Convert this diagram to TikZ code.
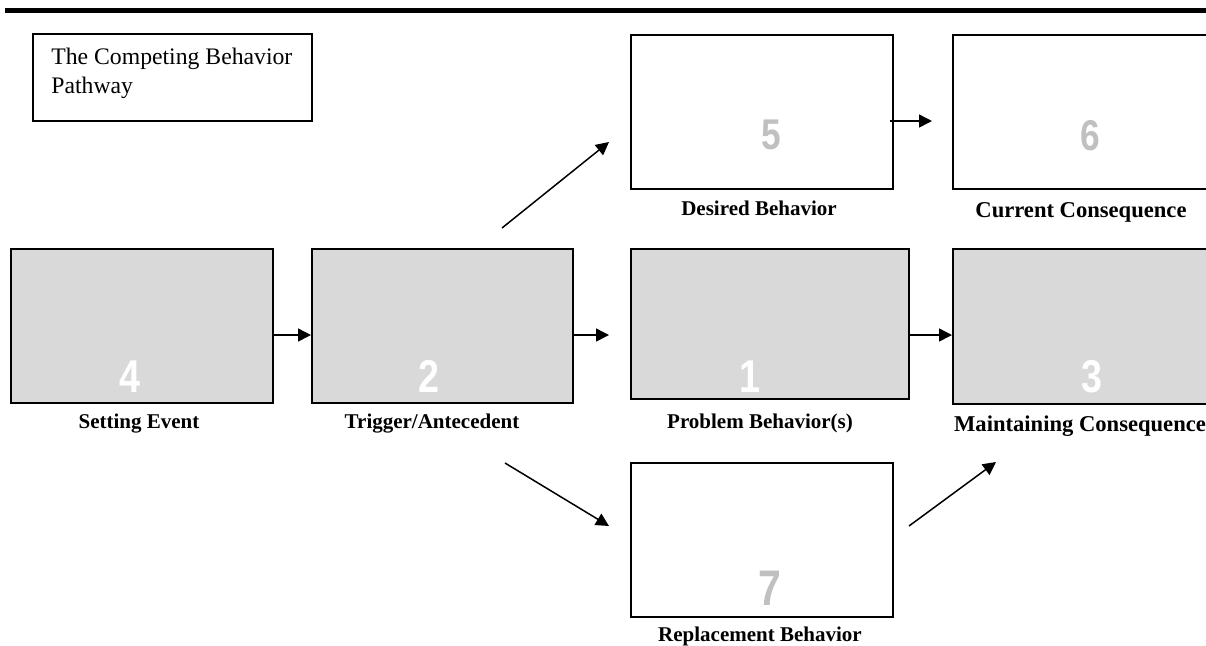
\documentclass[tikz,border=0pt]{standalone}
\usepackage{fontspec}
\setmainfont{Liberation Serif}
\newfontfamily\numfont{Liberation Sans}
\usetikzlibrary{arrows.meta}
\definecolor{boxgray}{HTML}{D9D9D9}
\definecolor{numgray}{HTML}{C0C0C0}
\begin{document}
\begin{tikzpicture}[x=0.5pt,y=-0.5pt,
  box/.style={draw=black,line width=1pt,inner sep=0pt,anchor=north west},
  lab/.style={font=\fontsize{10.5pt}{12pt}\selectfont\bfseries,anchor=base,inner sep=0pt},
  labbig/.style={font=\fontsize{11.3pt}{13pt}\selectfont\bfseries,anchor=base,inner sep=0pt},
  num/.style={font=\fontsize{23pt}{23pt}\selectfont\numfont\bfseries,anchor=base,inner sep=0pt,xscale=0.82,transform shape},
  arr/.style={line width=0.75pt,-{Triangle[length=6.5pt,width=6.5pt]}}]
\useasboundingbox (0,0) rectangle (1206,645);
\clip (0,0) rectangle (1206,645);
% top bar
\draw[line width=2.5pt] (5,10.5) -- (1206,10.5);
% title
\node[box,minimum width=139.5pt,minimum height=43.5pt] (title) at (32,33) {};
\node[anchor=base west,inner sep=0pt,align=left,font=\fontsize{11.85pt}{14.5pt}\selectfont] (titletext) at (51,93) {The Competing Behavior\\Pathway};
% boxes
\node[box,minimum width=131pt,minimum height=77pt] (n5) at (630,34) {};
\node[box,minimum width=135pt,minimum height=77pt] (n6) at (952,34) {};
\node[box,fill=boxgray,minimum width=131pt,minimum height=77pt] (n4) at (10,248) {};
\node[box,fill=boxgray,minimum width=130.5pt,minimum height=77pt] (n2) at (311,248) {};
\node[box,fill=boxgray,minimum width=139pt,minimum height=75pt] (n1) at (630,248) {};
\node[box,fill=boxgray,minimum width=135pt,minimum height=77.5pt] (n3) at (952,248) {};
\node[box,minimum width=131pt,minimum height=77pt] (n7) at (630,462) {};
% numbers
\node[num,text=numgray,font=\fontsize{21.5pt}{22pt}\selectfont\numfont\bfseries] (d5) at (771,149) {5};
\node[num,text=numgray,font=\fontsize{21.5pt}{22pt}\selectfont\numfont\bfseries] (d6) at (1090,150) {6};
\node[num,text=white] (d4) at (130,392) {4};
\node[num,text=white] (d2) at (429,392) {2};
\node[num,text=white] (d1) at (750,392) {1};
\node[num,text=white] (d3) at (1092,392) {3};
\node[num,text=numgray,font=\fontsize{25pt}{25pt}\selectfont\numfont\bfseries] (d7) at (770,605) {7};
% labels
\node[lab] (l5) at (759,215) {Desired Behavior};
\node[labbig] (l6) at (1081,217.5) {Current Consequence};
\node[lab] (l4) at (139,428) {Setting Event};
\node[lab] (l2) at (432,428) {Trigger/Antecedent};
\node[lab] (l1) at (760,428) {Problem Behavior(s)};
\node[labbig] (l3) at (1080,431) {Maintaining Consequence};
\node[lab] (l7) at (760,641) {Replacement Behavior};
% arrows
\draw[arr] ([yshift=-4.5pt]n4.east) -- ([yshift=-4.5pt]n4.east -| n2.west);
\draw[arr,shorten >=10.5pt] ([yshift=-4.5pt]n2.east) -- ([yshift=-4.5pt]n2.east -| n1.west);
\draw[arr] ([yshift=-4.25pt]n3.west -| n1.east) -- ([yshift=-4.25pt]n3.west);
\draw[arr] ([xshift=-2pt,yshift=-4.5pt]n5.east) -- ([xshift=-10pt,yshift=-4.5pt]n6.west);
\coordinate (upS) at (502,228);
\coordinate (upE) at (609,142);
\coordinate (dnS) at (505,463);
\coordinate (dnE) at (609,526);
\coordinate (rpS) at (909,526);
\coordinate (rpE) at (996,462);
\draw[arr] (upS) -- (upE);
\draw[arr] (dnS) -- (dnE);
\draw[arr] (rpS) -- (rpE);
\end{tikzpicture}
\end{document}
